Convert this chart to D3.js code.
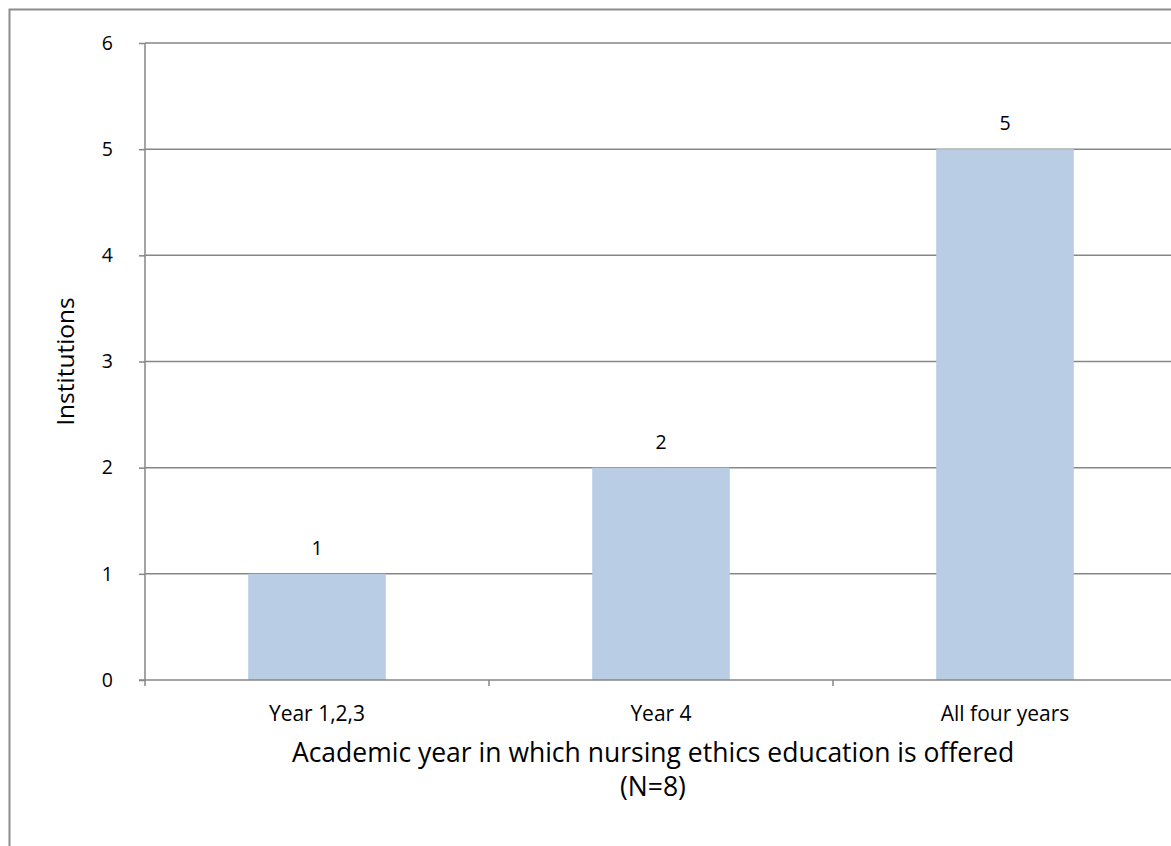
<!DOCTYPE html>
<html>
<head>
<meta charset="utf-8">
<script src="https://cdn.jsdelivr.net/npm/d3@7"></script>
<style>
  html, body { margin: 0; padding: 0; background: #fff; }
  svg { display: block; }
  text { font-family: "Open Sans", "Noto Sans", sans-serif; fill: #000; }
</style>
</head>
<body>
<svg id="chart" width="1171" height="846"></svg>
<script>
// Number of institutions by academic year of ethics teaching
const categories = ["Year 1,2,3", "Year 4", "All four years"];
const institutions = [1, 2, 5];
const yTicks = [0, 1, 2, 3, 4, 5, 6];
const xTitleLines = ["Academic year in which nursing ethics education is offered", "(N=8)"];
const yTitle = "Institutions";

(function draw() {
  const svg = d3.select("#chart");
  const W = 1171, H = 846;
  const plotLeft = 145, plotRight = 1177, plotTop = 43, plotBottom = 680;
  const numSize = 19.5, catSize = 21, titleSize = 26.5;

  // outer chart frame
  svg.append("rect")
    .attr("x", 9.5).attr("y", 9.5)
    .attr("width", W + 20).attr("height", H + 20)
    .attr("fill", "#fff").attr("stroke", "#8c8c8c").attr("stroke-width", 2);

  const x = d3.scaleBand().domain(categories).range([plotLeft, plotRight])
    .paddingInner(0.6).paddingOuter(0.3);
  const y = d3.scaleLinear().domain([0, 6]).range([plotBottom, plotTop]);

  const gridColor = "#868686";

  // horizontal gridlines
  svg.append("g").selectAll("line").data(yTicks.filter(d => d > 0)).join("line")
    .attr("x1", plotLeft).attr("x2", W + 10)
    .attr("y1", d => y(d)).attr("y2", d => y(d))
    .attr("stroke", gridColor).attr("stroke-width", 1.5);

  // bars
  svg.append("g").selectAll("rect").data(institutions).join("rect")
    .attr("x", (d, i) => x(categories[i]))
    .attr("y", d => y(d))
    .attr("width", x.bandwidth())
    .attr("height", d => y(0) - y(d))
    .attr("fill", "#b9cde5");

  // value labels
  svg.append("g").selectAll("text").data(institutions).join("text")
    .attr("x", (d, i) => x(categories[i]) + x.bandwidth() / 2)
    .attr("y", d => y(d) - 19)
    .attr("text-anchor", "middle")
    .attr("font-size", numSize)
    .text(d => d);

  // y axis
  const yAxis = svg.append("g").attr("transform", `translate(${plotLeft},0)`)
    .call(d3.axisLeft(y).tickValues(yTicks).tickSize(6).tickPadding(26).tickFormat(d3.format("d")));
  yAxis.select(".domain").remove();
  yAxis.append("line").attr("x1", 0).attr("x2", 0).attr("y1", plotTop).attr("y2", plotBottom)
    .attr("stroke", gridColor).attr("stroke-width", 1.5);
  yAxis.selectAll(".tick line").attr("stroke", gridColor).attr("stroke-width", 1.5);
  yAxis.selectAll(".tick text").attr("font-size", numSize)
    .attr("font-family", "\"Open Sans\", sans-serif").attr("fill", "#000");

  // x axis with boundary ticks between categories
  const xAxisG = svg.append("g").attr("transform", `translate(0,${plotBottom})`);
  xAxisG.append("line").attr("x1", plotLeft - 6).attr("x2", W + 10)
    .attr("stroke", gridColor).attr("stroke-width", 1.5);
  const step = x.step();
  const boundaries = d3.range(categories.length + 1).map(i => plotLeft + i * step);
  xAxisG.selectAll("line.bt").data(boundaries).join("line").attr("class", "bt")
    .attr("x1", d => d).attr("x2", d => d).attr("y1", 0).attr("y2", 6)
    .attr("stroke", gridColor).attr("stroke-width", 1.5);
  xAxisG.selectAll("text").data(categories).join("text")
    .attr("x", d => x(d) + x.bandwidth() / 2)
    .attr("y", 41)
    .attr("text-anchor", "middle")
    .attr("font-size", catSize)
    .text(d => d);

  // axis titles
  const xc = 653;
  svg.append("text").attr("x", xc).attr("y", 762)
    .attr("text-anchor", "middle").attr("font-size", titleSize).text(xTitleLines[0]);
  svg.append("text").attr("x", xc).attr("y", 796)
    .attr("text-anchor", "middle").attr("font-size", titleSize).text(xTitleLines[1]);

  svg.append("text")
    .attr("transform", `translate(74,${(plotTop + plotBottom) / 2}) rotate(-90)`)
    .attr("text-anchor", "middle").attr("font-size", 24.5).text(yTitle);
})();
</script>
</body>
</html>
